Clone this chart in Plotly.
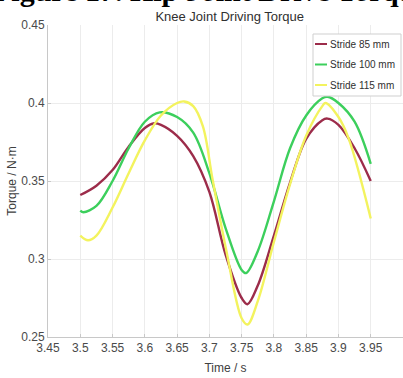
import plotly.graph_objects as go

# ---- data ----
series_names = ["Stride 85 mm", "Stride 100 mm", "Stride 115 mm"]
series_colors = ["#9c2c4a", "#3ccf5c", "#f3f35e"]

time_red = [3.500, 3.525, 3.550, 3.575, 3.600, 3.615, 3.625, 3.650, 3.675, 3.700,
            3.725, 3.750, 3.759, 3.775, 3.800, 3.825, 3.850, 3.875, 3.883, 3.900,
            3.925, 3.950]
torque_red = [0.341, 0.347, 0.357, 0.372, 0.384, 0.387, 0.386, 0.379, 0.366, 0.343,
              0.303, 0.275, 0.271, 0.283, 0.315, 0.349, 0.377, 0.389, 0.390, 0.386,
              0.371, 0.350]

time_green = [3.500, 3.505, 3.525, 3.550, 3.575, 3.600, 3.623, 3.650, 3.675, 3.700,
              3.725, 3.750, 3.757, 3.775, 3.800, 3.825, 3.850, 3.875, 3.883, 3.900,
              3.925, 3.950]
torque_green = [0.331, 0.330, 0.334, 0.350, 0.371, 0.388, 0.394, 0.391, 0.381, 0.355,
                0.320, 0.293, 0.291, 0.305, 0.337, 0.371, 0.392, 0.403, 0.404, 0.400,
                0.388, 0.361]

time_yellow = [3.500, 3.512, 3.525, 3.550, 3.575, 3.600, 3.625, 3.650, 3.661, 3.675,
               3.690, 3.705, 3.726, 3.750, 3.759, 3.775, 3.800, 3.825, 3.850, 3.875,
               3.880, 3.900, 3.916, 3.950]
torque_yellow = [0.315, 0.312, 0.315, 0.333, 0.355, 0.376, 0.392, 0.400, 0.401, 0.398,
                 0.385, 0.351, 0.306, 0.262, 0.258, 0.273, 0.311, 0.348, 0.379, 0.398,
                 0.400, 0.391, 0.377, 0.326]

x_ticks = [3.45, 3.5, 3.55, 3.6, 3.65, 3.7, 3.75, 3.8, 3.85, 3.9, 3.95]
x_tick_labels = ["3.45", "3.5", "3.55", "3.6", "3.65", "3.7", "3.75", "3.8", "3.85", "3.9", "3.95"]
y_ticks = [0.25, 0.3, 0.35, 0.4, 0.45]
y_tick_labels = ["0.25", "0.3", "0.35", "0.4", "0.45"]

FONT = "Liberation Sans Narrow, Arial Narrow, Liberation Sans, sans-serif"

W, H = 403, 378
ML, MR, MT, MB = 48, 0, 25, 41
PW, PH = W - ML - MR, H - MT - MB


def px_x(p):
    return (p - ML) / PW


def px_y(p):
    return (H - MB - p) / PH


times = [time_red, time_green, time_yellow]
torques = [torque_red, torque_green, torque_yellow]

fig = go.Figure()
for name, color, t, v in zip(series_names, series_colors, times, torques):
    fig.add_trace(go.Scatter(
        x=t, y=v, mode="lines", name=name, showlegend=False,
        line=dict(color=color, width=2.4, shape="spline", smoothing=1.0),
    ))

# legend box drawn from the series names / colours
shapes = [dict(type="rect", xref="paper", yref="paper",
               x0=px_x(313), x1=px_x(401), y0=px_y(96), y1=px_y(34),
               fillcolor="white", line=dict(color="#cfcfcf", width=1), layer="above")]
annotations = []
for i, (name, color) in enumerate(zip(series_names, series_colors)):
    yrow = 44 + 20.5 * i
    shapes.append(dict(type="line", xref="paper", yref="paper",
                       x0=px_x(315), x1=px_x(327), y0=px_y(yrow), y1=px_y(yrow),
                       line=dict(color=color, width=2), layer="above"))
    annotations.append(dict(text=name, xref="paper", yref="paper",
                            x=px_x(328), xanchor="left", y=px_y(yrow), yanchor="middle",
                            showarrow=False,
                            font=dict(family=FONT, size=10, color="#303030")))

annotations.append(dict(
    text="<b>Figure 17. Hip Joint Drive Torque</b>",
    xref="paper", yref="paper", x=px_x(-9), xanchor="left",
    y=px_y(9), yanchor="bottom", showarrow=False,
    font=dict(family="Liberation Serif, Times New Roman, serif", size=30, color="black"),
))

fig.update_layout(
    width=W, height=H,
    margin=dict(l=ML, r=MR, t=MT, b=MB),
    paper_bgcolor="white", plot_bgcolor="white",
    font=dict(family=FONT, color="#4a4a4a", size=11),
    title=dict(text="Knee Joint Driving Torque", x=0.57, xanchor="center",
               y=1 - 16 / H, yanchor="middle",
               font=dict(family=FONT, size=13, color="#303030")),
    showlegend=False,
    shapes=shapes,
    annotations=annotations,
)

fig.update_xaxes(
    range=[3.45, 4.0], tickvals=x_ticks, ticktext=x_tick_labels,
    showgrid=True, gridcolor="#ececec", gridwidth=1,
    showline=True, linecolor="#c8c8c8", linewidth=1,
    ticks="inside", ticklen=3, tickcolor="#c8c8c8",
    tickfont=dict(family=FONT, size=12, color="#4a4a4a"),
    title=dict(text="Time / s", standoff=9, font=dict(family=FONT, size=12, color="#404040")),
    zeroline=False,
)
fig.update_yaxes(
    range=[0.25, 0.45], tickvals=y_ticks, ticktext=y_tick_labels,
    showgrid=True, gridcolor="#ececec", gridwidth=1,
    showline=True, linecolor="#c8c8c8", linewidth=1,
    ticks="inside", ticklen=3, tickcolor="#c8c8c8",
    tickfont=dict(family=FONT, size=12, color="#4a4a4a"),
    title=dict(text="Torque / N·m", standoff=2, font=dict(family=FONT, size=12, color="#404040")),
    zeroline=False,
)

fig.write_html("out.html")
